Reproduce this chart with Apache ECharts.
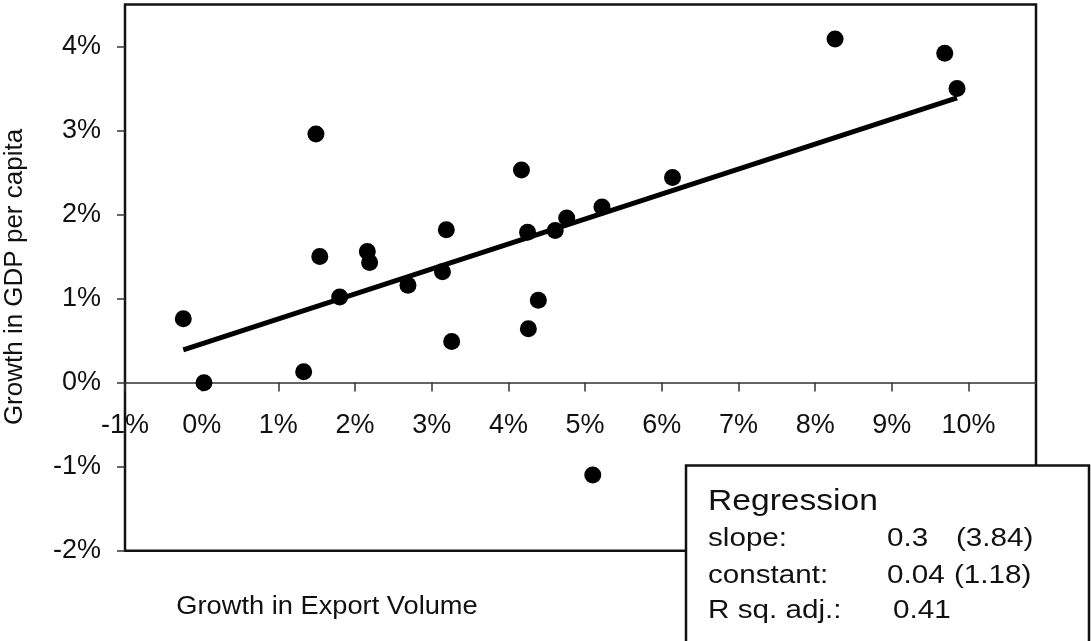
<!DOCTYPE html>
<html>
<head>
<meta charset="utf-8">
<script src="https://cdn.jsdelivr.net/npm/echarts@6/dist/echarts.min.js"></script>
<style>
html, body { margin: 0; padding: 0; background: #fff; }
#chart { width: 1091px; height: 641px; }
</style>
</head>
<body>
<div id="chart"></div>
<script>
// export volume growth (%) vs GDP per capita growth (%)
var exportGrowth = [-0.24, 0.03, 1.33, 1.49, 1.54, 1.80, 2.16, 2.19, 2.69, 3.19, 3.14, 3.26,
	4.17, 4.25, 4.26, 4.39, 4.61, 4.76, 5.22, 6.14, 5.10, 8.26, 9.69, 9.85];
var gdpGrowth = [0.76, 0.00, 0.13, 2.96, 1.50, 1.02, 1.56, 1.43, 1.16, 1.82, 1.32, 0.49,
	2.53, 1.79, 0.64, 0.98, 1.81, 1.96, 2.09, 2.44, -1.10, 4.09, 3.92, 3.50];

// fitted line endpoints
var fitX = [-0.24, 9.85];
var fitY = [0.39, 3.39];

var xTicks = [-1, 0, 1, 2, 3, 4, 5, 6, 7, 8, 9, 10];
var yTicks = [-2, -1, 0, 1, 2, 3, 4];

var regLabels = ['slope:', 'constant:', 'R sq. adj.:'];
var regValues = ['0.3', '0.04', '0.41'];
var regTstats = ['(3.84)', '(1.18)', ''];

var FONT = 'Liberation Sans, Arial, sans-serif';
var INK = '#111';

var points = [];
for (var i = 0; i < exportGrowth.length; i++) {
	points.push([exportGrowth[i], gdpGrowth[i]]);
}
var fitLine = [];
for (var j = 0; j < fitX.length; j++) {
	fitLine.push([fitX[j], fitY[j]]);
}

function pct(v) { return v + '%'; }

// the source picture is a bit wider than tall, so stretch graphic texts a little
function txt(x, y, s, size, sx) {
	return {
		type: 'text', x: x, y: y, z: 11, scaleX: sx,
		style: { text: s, font: size + 'px ' + FONT, fill: INK, align: 'left', verticalAlign: 'middle' }
	};
}

// grid box: bottom at -2%, zero line sits 168px above it
var gridTop = 4.5, gridBottom = 90.3;
var zeroOffset = -168.1;

var graphics = [
	{
		type: 'text',
		x: 15, y: 277,
		rotation: Math.PI / 2,
		scaleX: 1.04,
		style: { text: 'Growth in GDP per capita', font: '25px ' + FONT, fill: INK, align: 'center', verticalAlign: 'middle' }
	},
	{
		type: 'text',
		x: 327, y: 607,
		scaleX: 1.09,
		style: { text: 'Growth in Export Volume', font: '25px ' + FONT, fill: INK, align: 'center', verticalAlign: 'middle' }
	},
	{
		type: 'rect',
		shape: { x: 686, y: 465.5, width: 403, height: 190 },
		style: { fill: '#fff', stroke: '#111', lineWidth: 2.5 },
		z: 10
	},
	txt(708, 502, 'Regression', 30, 1.12)
];
var rowMid = [539, 576, 611];
for (var k = 0; k < regLabels.length; k++) {
	graphics.push(txt(708, rowMid[k], regLabels[k], 26, 1.14));
	graphics.push(txt(k == 2 ? 893 : 887, rowMid[k], regValues[k], 26, 1.14));
	if (regTstats[k]) {
		graphics.push(txt(k == 0 ? 956 : 954, rowMid[k], regTstats[k], 26, 1.14));
	}
}

var option = {
	backgroundColor: '#fff',
	animation: false,
	grid: {
		left: 125, top: gridTop, right: 55, bottom: gridBottom,
		show: true,
		borderColor: '#111',
		borderWidth: 2.5,
		backgroundColor: '#fff'
	},
	xAxis: {
		type: 'value',
		min: -1,
		max: 10.88,
		interval: 1,
		offset: zeroOffset,
		splitLine: { show: false },
		axisLine: { show: true, onZero: false, lineStyle: { color: '#333', width: 1.5 } },
		axisTick: { show: true, length: 9, customValues: xTicks, lineStyle: { color: '#333', width: 1.5 } },
		axisLabel: {
			customValues: xTicks,
			formatter: pct,
			margin: 29,
			fontSize: 27,
			fontFamily: FONT,
			color: INK
		}
	},
	yAxis: {
		type: 'value',
		min: -2,
		max: 4.5,
		interval: 1,
		splitLine: { show: false },
		axisLine: { show: false, onZero: false },
		axisTick: { show: true, length: 8, customValues: yTicks, lineStyle: { color: '#333', width: 1.5 } },
		axisLabel: {
			customValues: yTicks,
			formatter: pct,
			margin: 24,
			fontSize: 27,
			fontFamily: FONT,
			color: INK
		}
	},
	series: [
		{
			type: 'line',
			data: fitLine,
			symbol: 'none',
			lineStyle: { color: '#000', width: 5 },
			z: 3
		},
		{
			type: 'scatter',
			data: points,
			symbol: 'circle',
			symbolSize: 17,
			itemStyle: { color: '#000', opacity: 1 },
			z: 4
		}
	],
	graphic: graphics
};

var chart = echarts.init(document.getElementById('chart'));
chart.setOption(option);
</script>
</body>
</html>
